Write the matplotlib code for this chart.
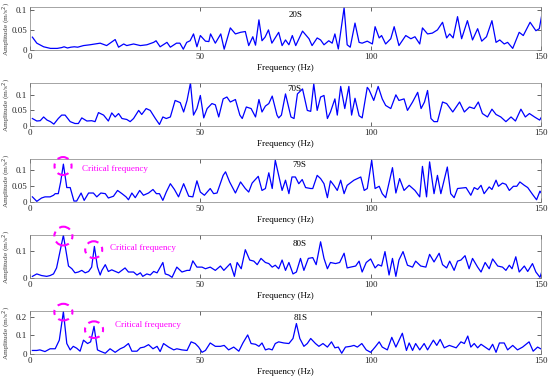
import matplotlib
matplotlib.use("Agg")
import matplotlib.pyplot as plt
from matplotlib.patches import Ellipse

plt.rcParams['font.family'] = ['Liberation Serif', 'DejaVu Serif']

# ---------------- data ----------------
f20 = [0.7, 2, 4, 6, 8, 9.3, 10, 11, 12, 13, 14, 15.7, 17.6, 20.6, 22.5, 25, 26, 27.5, 28.4, 30.4, 32.4,
       34.3, 36.3, 37, 38.2, 40.2, 41.2, 43, 44, 45, 46, 47, 48, 49, 50, 51.5, 52.5, 53, 54.4, 56, 57,
       58.8, 60.3, 61.8, 63.2, 64.2, 65.4, 66.2, 67.2, 68.1, 69, 70, 71, 73, 74, 75, 76, 77, 78, 80,
       81.9, 82.8, 84.3, 85.3, 86.3, 87.7, 88.7, 89.5, 90.5, 92.2, 93.1, 94, 95.4, 96.6, 97.5, 99,
       100.5, 101.3, 102.5, 103.2, 104.4, 105.9, 106.9, 108.3, 110.3, 111.8, 113, 114.4, 115.2, 116.7,
       118.1, 119.6, 121.1, 122.3, 123.2, 124.2, 125.5, 126.7, 128.4, 129.9, 131.4, 132.6, 134, 135.6,
       136.8, 137.9, 139.2, 140.2, 141.7, 143.6, 144.8, 146.8, 148.5, 149.5, 150.5]
a20 = [0.032, 0.017, 0.008, 0.004, 0.004, 0.006, 0.008, 0.005, 0.007, 0.008, 0.007, 0.011, 0.013, 0.017,
       0.011, 0.026, 0.007, 0.015, 0.011, 0.015, 0.011, 0.013, 0.019, 0.023, 0.008, 0.019, 0.007, 0.017,
       0.017, 0.002, 0.019, 0.023, 0.040, 0.008, 0.036, 0.022, 0.021, 0.040, 0.017, 0.040, 0.002, 0.055,
       0.040, 0.044, 0.046, 0.011, 0.033, 0.012, 0.075, 0.023, 0.032, 0.050, 0.017, 0.044, 0.011, 0.025,
       0.013, 0.036, 0.011, 0.047, 0.028, 0.011, 0.030, 0.025, 0.013, 0.023, 0.017, 0.040, 0.0025, 0.105,
       0.013, 0.007, 0.067, 0.019, 0.017, 0.022, 0.015, 0.058, 0.030, 0.036, 0.015, 0.028, 0.058, 0.011,
       0.036, 0.028, 0.033, 0.015, 0.055, 0.040, 0.042, 0.050, 0.069, 0.030, 0.040, 0.030, 0.083, 0.028,
       0.073, 0.025, 0.053, 0.022, 0.033, 0.073, 0.019, 0.025, 0.015, 0.019, 0.004, 0.044, 0.036, 0.069,
       0.048, 0.053, 0.100]

f70 = [0.7, 2, 3, 4, 5, 6, 7, 8.3, 9.3, 10.3, 11.8, 13.2, 14.2, 15.2, 16.7, 18.1, 19.1, 20.1, 21.6, 23,
       24, 25, 26, 27, 28.4, 29.4, 30.4, 31.9, 32.8, 34.1, 35.3, 36.8, 38, 39, 40, 41.2, 42.6, 44.1, 45.1,
       46.1, 47.1, 48, 49, 50, 51, 52, 53.4, 54.4, 55.4, 56.7, 57.8, 58.8, 60.3, 61.6, 62.3, 63.5, 64.9,
       66.2, 67.2, 68.1, 69.1, 70.1, 71.1, 72.5, 73, 73.8, 75, 76.6, 77.5, 78.5, 80, 81.4, 82.4, 83.3,
       84.3, 85.3, 86.3, 87.3, 88.2, 89.5, 90.2, 91.2, 92.4, 93.6, 94.4, 95.4, 96.6, 97.5, 99, 99.5,
       100.9, 102.2, 103.4, 104.4, 105.9, 107.4, 108.3, 109.8, 110.8, 112.3, 113.8, 114.8, 115.8, 116.7,
       117.7, 118.6, 119.6, 121.1, 122.3, 124.1, 126.1, 127.5, 129, 130.4, 131.6, 132.8, 134.3, 135.6,
       136.8, 138.2, 139.7, 141.2, 142.5, 144.1, 145.4, 146.6, 148.1, 149.6, 150.5]
a70 = [0.024, 0.016, 0.017, 0.029, 0.019, 0.014, 0.006, 0.024, 0.035, 0.035, 0.014, 0.008, 0.008, 0.026,
       0.016, 0.017, 0.014, 0.043, 0.035, 0.016, 0.042, 0.029, 0.040, 0.024, 0.021, 0.014, 0.024, 0.050,
       0.037, 0.056, 0.050, 0.024, 0.005, 0.029, 0.024, 0.029, 0.082, 0.075, 0.045, 0.082, 0.138, 0.035,
       0.056, 0.098, 0.026, 0.056, 0.072, 0.068, 0.029, 0.087, 0.093, 0.077, 0.085, 0.035, 0.024, 0.061,
       0.056, 0.029, 0.085, 0.045, 0.064, 0.072, 0.096, 0.035, 0.026, 0.035, 0.103, 0.029, 0.024, 0.103,
       0.119, 0.050, 0.047, 0.135, 0.050, 0.093, 0.098, 0.024, 0.045, 0.087, 0.035, 0.127, 0.056, 0.127,
       0.035, 0.089, 0.033, 0.026, 0.124, 0.117, 0.082, 0.127, 0.087, 0.066, 0.056, 0.100, 0.082, 0.087,
       0.050, 0.077, 0.108, 0.056, 0.077, 0.114, 0.024, 0.014, 0.014, 0.077, 0.072, 0.045, 0.077, 0.045,
       0.061, 0.056, 0.077, 0.040, 0.029, 0.054, 0.037, 0.029, 0.014, 0.029, 0.016, 0.054, 0.029, 0.040,
       0.029, 0.019, 0.035]

f79 = [0.7, 2, 3.4, 4.4, 5.9, 6.9, 7.4, 8.3, 9, 9.8, 10.8, 11.8, 12.9, 13.7, 15, 15.9, 17.2, 18.6, 19.6,
       20.8, 22.1, 23, 24.5, 25.7, 27, 28.2, 28.9, 29.9, 30.9, 32.2, 33.3, 34.8, 36.1, 37.1, 38, 39, 40,
       41.2, 42.4, 43.6, 45.1, 46.6, 47.8, 49, 50, 51.2, 52.9, 53.9, 54.9, 56.7, 57.4, 58.6, 60.3, 61.8,
       63.2, 64.2, 65.2, 67, 68.1, 69.1, 70.1, 71.1, 72, 73, 74, 75, 76, 76.9, 77.9, 78.9, 79.9, 80.9,
       82.4, 83, 84.3, 85.3, 86.3, 87.3, 88.2, 89.2, 90.2, 91.2, 92.2, 93.1, 95.1, 97.1, 98.1, 99, 100.3,
       101.3, 102.5, 103.4, 104.4, 106.4, 107.4, 108.5, 109.8, 111.3, 113, 114.4, 115.2, 116.4, 117.3,
       118.6, 119.6, 120.6, 122.5, 123.5, 124.5, 125.5, 128, 129.4, 130.4, 131.4, 132.4, 133.3, 134.8,
       135.6, 136.8, 137.5, 138.7, 139.7, 140.7, 141.9, 142.9, 143.8, 145.1, 146.1, 147.5, 148.7, 149.7,
       150.5]
a79 = [0.016, 0.002, 0.0125, 0.016, 0.016, 0.021, 0.026, 0.026, 0.0625, 0.118, 0.045, 0.045, 0.003, 0.003,
       0.028, 0.005, 0.028, 0.028, 0.016, 0.028, 0.026, 0.0125, 0.018, 0.036, 0.026, 0.016, 0.007, 0.028,
       0.0135, 0.036, 0.021, 0.028, 0.039, 0.026, 0.026, 0.005, 0.031, 0.057, 0.039, 0.016, 0.057, 0.018,
       0.016, 0.066, 0.031, 0.021, 0.042, 0.026, 0.028, 0.083, 0.094, 0.0625, 0.028, 0.0625, 0.042, 0.031,
       0.059, 0.080, 0.036, 0.042, 0.091, 0.042, 0.130, 0.083, 0.036, 0.068, 0.026, 0.078, 0.078, 0.057,
       0.070, 0.045, 0.042, 0.042, 0.083, 0.073, 0.057, 0.0135, 0.066, 0.052, 0.036, 0.068, 0.026, 0.052,
       0.068, 0.078, 0.036, 0.042, 0.130, 0.042, 0.049, 0.026, 0.0135, 0.107, 0.028, 0.073, 0.036, 0.052,
       0.036, 0.016, 0.111, 0.016, 0.125, 0.026, 0.083, 0.026, 0.109, 0.026, 0.0135, 0.042, 0.045, 0.021,
       0.045, 0.039, 0.052, 0.026, 0.047, 0.039, 0.068, 0.049, 0.059, 0.055, 0.036, 0.049, 0.049, 0.0625,
       0.052, 0.045, 0.024, 0.007, 0.034, 0.021]

f80 = [0.7, 2, 3.4, 4.9, 5.9, 6.9, 7.8, 8.6, 9.8, 10.6, 11.3, 12.3, 13.2, 14.2, 15.2, 16.2, 17.2, 18.1,
       18.9, 19.8, 20.6, 21.1, 22.1, 23, 24, 26, 27.9, 28.9, 30.4, 31.4, 32.4, 33.1, 34.3, 35.3, 36.3,
       37.3, 39, 39.7, 40.7, 41.7, 43.1, 44.6, 46.1, 46.9, 47.8, 49, 50.5, 51.5, 52.9, 54.4, 55.9, 56.9,
       58.8, 60, 60.8, 62, 63.2, 64.5, 65.7, 66.7, 67.8, 69.1, 70.1, 71.1, 72, 73, 74, 75, 76, 77.2, 78.2,
       79.4, 80.4, 81.7, 83, 84, 85.3, 86.3, 87.3, 88.2, 89.7, 90.9, 92.2, 93.1, 94.1, 95.6, 96.6, 97.5,
       98.7, 100, 101.3, 102.2, 103.2, 104.2, 105.4, 106.4, 107.4, 108.3, 109.5, 110.8, 112.3, 113.2,
       114.7, 116.2, 117.3, 118.6, 120.1, 121.1, 122.3, 123.2, 124.5, 125.5, 126.5, 127.7, 128.9, 129.9,
       131.4, 132.4, 133.6, 134.8, 135.8, 137.3, 138.7, 139.7, 140.7, 141.5, 142.6, 143.6, 145.1, 146.1,
       147.5, 148.5, 149.7, 150.5]
a80 = [0.006, 0.015, 0.009, 0.006, 0.009, 0.015, 0.037, 0.085, 0.157, 0.097, 0.044, 0.034, 0.019, 0.022,
       0.028, 0.019, 0.024, 0.040, 0.116, 0.040, 0.011, 0.028, 0.049, 0.024, 0.030, 0.019, 0.037, 0.022,
       0.022, 0.011, 0.019, 0.006, 0.015, 0.011, 0.024, 0.019, 0.057, 0.015, 0.011, 0.0025, 0.040, 0.022,
       0.028, 0.028, 0.063, 0.040, 0.040, 0.034, 0.040, 0.028, 0.044, 0.028, 0.053, 0.006, 0.057, 0.034,
       0.104, 0.066, 0.062, 0.049, 0.072, 0.057, 0.053, 0.040, 0.047, 0.034, 0.066, 0.028, 0.057, 0.015,
       0.022, 0.072, 0.028, 0.072, 0.075, 0.049, 0.133, 0.072, 0.034, 0.057, 0.053, 0.057, 0.091, 0.037,
       0.040, 0.044, 0.062, 0.022, 0.057, 0.070, 0.037, 0.049, 0.044, 0.097, 0.011, 0.072, 0.006, 0.066,
       0.097, 0.047, 0.040, 0.062, 0.044, 0.040, 0.087, 0.059, 0.091, 0.049, 0.037, 0.062, 0.028, 0.062,
       0.066, 0.082, 0.034, 0.072, 0.040, 0.022, 0.057, 0.034, 0.070, 0.044, 0.040, 0.028, 0.047, 0.034,
       0.078, 0.022, 0.044, 0.024, 0.053, 0.022, 0.0025, 0.034]

f81 = [0.7, 2, 2.9, 4.4, 5.9, 7.4, 8.6, 9.8, 10.8, 11.8, 12.7, 13.7, 14.7, 15.7, 16.9, 17.8, 18.8, 19.8,
       20.6, 22.1, 23.5, 25, 26.5, 27.6, 28.9, 29.9, 31.4, 32.4, 33.5, 34.8, 36.1, 37.3, 38.2, 39.2, 40.7,
       42.2, 43.1, 44.6, 46.1, 47.3, 48.5, 49.5, 50.5, 51.5, 52.9, 54.4, 55.9, 57, 58.3, 59.8, 61.3, 62.5,
       63.9, 64.9, 66.2, 67.2, 68.1, 69.1, 70.1, 71.1, 72, 73, 74.5, 76, 77.2, 78.2, 79.2, 80.4, 81.4,
       82.4, 83.8, 84.8, 86, 87.3, 88.5, 89.5, 90.5, 91.5, 92.6, 94.1, 95.1, 96.1, 97.4, 98.7, 100, 101.3,
       102.5, 103.4, 104.9, 106.2, 107.4, 109.3, 110.5, 111.3, 112.3, 113.2, 114.4, 115.7, 116.7, 118.4,
       119.4, 120.4, 121.6, 123.1, 125.1, 126.5, 127.5, 128.5, 129.4, 130.4, 131.4, 132.4, 133.6, 134.8,
       135.8, 136.8, 137.8, 139.2, 140.2, 141.7, 143.1, 144.6, 146.5, 147.7, 149, 150.5]
a81 = [0.019, 0.019, 0.022, 0.013, 0.028, 0.028, 0.074, 0.226, 0.056, 0.022, 0.041, 0.031, 0.015, 0.074,
       0.056, 0.065, 0.148, 0.022, 0.015, 0.004, 0.028, 0.009, 0.028, 0.037, 0.056, 0.015, 0.015, 0.033,
       0.037, 0.050, 0.028, 0.041, 0.013, 0.056, 0.037, 0.022, 0.028, 0.022, 0.019, 0.065, 0.056, 0.037,
       0.009, 0.019, 0.059, 0.041, 0.041, 0.046, 0.022, 0.037, 0.015, 0.059, 0.102, 0.056, 0.052, 0.041,
       0.059, 0.022, 0.028, 0.022, 0.056, 0.065, 0.059, 0.056, 0.083, 0.163, 0.083, 0.041, 0.056, 0.083,
       0.056, 0.041, 0.056, 0.037, 0.065, 0.033, 0.037, 0.004, 0.037, 0.041, 0.046, 0.037, 0.056, 0.022,
       0.009, 0.037, 0.065, 0.037, 0.022, 0.089, 0.037, 0.111, 0.019, 0.059, 0.019, 0.056, 0.022, 0.056,
       0.022, 0.074, 0.046, 0.078, 0.033, 0.046, 0.033, 0.065, 0.056, 0.096, 0.037, 0.056, 0.033, 0.052,
       0.037, 0.022, 0.052, 0.009, 0.059, 0.059, 0.022, 0.046, 0.022, 0.037, 0.065, 0.015, 0.037, 0.022]

labels = ["20S", "70S", "79S", "80S", "81S"]
freqs = [f20, f70, f79, f80, f81]
amps = [a20, a70, a79, a80, a81]
ylims = [0.107, 0.138, 0.134, 0.158, 0.23]
yticks = [[0, 0.05, 0.1], [0, 0.05, 0.1], [0, 0.05, 0.1], [0, 0.1], [0, 0.1, 0.2]]
ytick_labels = [["0", "0.05", "0.1"], ["0", "0.05", "0.1"], ["0", "0.05", "0.1"], ["0", "0.1"], ["0", "0.1", "0.2"]]
label_pos = [(78, 0.086), (77.5, 0.119), (79, 0.115), (79, 0.125), (79.4, 0.194)]
xticks = [0, 50, 100, 150]

# critical frequency markers: (panel, center f, center amp, width Hz, height amp)
circles = [(2, 9.7, 0.112, 5.0, 0.056),
           (3, 9.8, 0.154, 5.3, 0.069), (3, 18.7, 0.104, 5.0, 0.062),
           (4, 9.8, 0.224, 5.3, 0.089), (4, 18.8, 0.130, 5.3, 0.089)]
crit_text = {2: (15.3, 0.103), 3: (23.5, 0.112), 4: (25.0, 0.157)}

# ---------------- figure ----------------
W, H = 550, 379
fig = plt.figure(figsize=(W / 100, H / 100), dpi=100)
tops = [7, 83, 159, 235, 311]
ph = 43
fs = 6.5
axc = '#262626'

axes = []
for i in range(5):
    ax = fig.add_axes([30 / W, (H - tops[i] - ph) / H, 511 / W, ph / H])
    ax.plot(freqs[i], amps[i], color='#0000ff', lw=0.9)
    ax.set_xlim(0, 150)
    ax.set_ylim(0, ylims[i])
    ax.set_xticks(xticks)
    ax.set_xticklabels([str(t) for t in xticks], fontsize=fs)
    ax.set_yticks(yticks[i])
    ax.set_yticklabels(ytick_labels[i], fontsize=fs)
    ax.tick_params(direction='in', length=3, width=0.5, top=True, right=True, pad=2, colors=axc)
    for s in ax.spines.values():
        s.set_linewidth(0.5)
        s.set_color('#808080')
    ax.set_xlabel("Frequency (Hz)", fontsize=fs, labelpad=2)
    ax.set_ylabel("Amplitude (m/s$^{2}$)", fontsize=5.3, color='#404040')
    ax.yaxis.set_label_coords((13 - 30) / 511, 0.5)
    ax.text(label_pos[i][0], label_pos[i][1], labels[i], fontsize=fs, ha='center', va='center')
    axes.append(ax)

for (p, cx, cy, w, h) in circles:
    e = Ellipse((cx, cy), w, h, fill=False, edgecolor='#ff00ff', lw=1.5,
                linestyle=(2.8, (5.6, 2.6, 2.4, 2.6)), clip_on=False, zorder=5)
    axes[p].add_patch(e)

for p, (tx, ty) in crit_text.items():
    axes[p].text(tx, ty, "Critical frequency", color='#ff00ff', fontsize=fs, ha='left', va='center')

fig.savefig("out.png", dpi=100)
